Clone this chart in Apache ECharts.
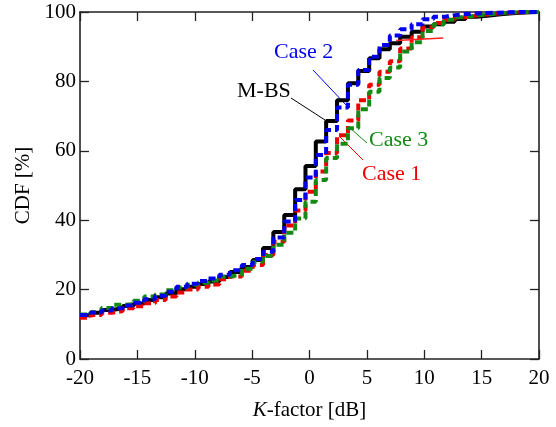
<!DOCTYPE html>
<html>
<head>
<meta charset="utf-8">
<script src="https://cdn.jsdelivr.net/npm/echarts@6/dist/echarts.min.js"></script>
<style>
html,body{margin:0;padding:0;background:#fff;}
#c{width:556px;height:427px;}
</style>
</head>
<body>
<div id="c"></div>
<script>
// Step edges of the K-factor bins [dB]
const kEdges = [-20, -19.07, -18.13, -17.2, -16.27, -15.33, -14.4, -13.46, -12.53, -11.6, -10.66, -9.73, -8.8, -7.86, -6.93, -5.9, -4.95, -4.05, -3.15, -2.2, -1.25, -0.35, 0.55, 1.45, 2.4, 3.35, 4.25, 5.2, 6.1, 7.0, 7.9, 8.9, 9.85, 10.8, 11.7, 12.65, 13.6, 14.55, 15.5, 16.45, 17.4, 18.35, 19.3, 20];
// CDF [%] values after each step
const mbs   = [12.6, 13.3, 14.1, 14.6, 15.3, 16.0, 17.0, 17.8, 18.9, 20.1, 20.8, 21.6, 22.3, 23.6, 25.1, 26.5, 28.5, 32.0, 36.6, 41.5, 48.9, 55.6, 62.7, 68.6, 74.6, 79.5, 83.0, 86.7, 89.3, 91.0, 92.9, 94.3, 95.8, 96.5, 97.2, 98.0, 98.6, 98.9, 99.3, 99.6, 99.8, 99.9, 100, 100];
const case1 = [11.9, 12.7, 13.3, 13.8, 14.6, 15.2, 16.1, 17.0, 18.0, 19.2, 20.0, 20.8, 21.5, 23.0, 23.8, 25.4, 27.1, 30.0, 33.8, 38.5, 42.8, 48.2, 54.0, 59.4, 64.5, 68.7, 74.6, 79.0, 82.8, 85.8, 89.5, 92.7, 95.5, 96.8, 97.8, 98.5, 99.0, 99.3, 99.6, 99.8, 99.9, 100, 100, 100];
const case2 = [12.7, 13.4, 14.0, 14.6, 15.4, 16.2, 17.2, 18.2, 19.4, 20.8, 21.7, 22.5, 23.2, 24.3, 25.6, 27.1, 28.8, 30.9, 35.0, 39.6, 45.8, 52.3, 58.8, 66.0, 72.5, 79.0, 83.3, 87.1, 90.5, 93.2, 95.0, 96.5, 97.9, 98.6, 99.1, 99.4, 99.6, 99.7, 99.8, 99.9, 100, 100, 100, 100];
const case3 = [12.8, 13.5, 14.7, 15.6, 15.8, 16.8, 18.0, 18.6, 19.8, 20.6, 21.4, 22.0, 22.6, 23.8, 24.3, 26.0, 28.0, 29.7, 32.9, 36.4, 40.5, 45.3, 51.6, 57.9, 62.0, 66.5, 72.0, 77.0, 81.0, 84.0, 88.6, 91.3, 94.5, 96.5, 97.8, 98.5, 99.0, 99.3, 99.6, 99.8, 100, 100, 100, 100];
// small red stroke near the top
const redStrokeX = [7.55, 11.65];
const redStrokeY = [91.8, 92.5];

const xTicks = [-20, -15, -10, -5, 0, 5, 10, 15, 20];
const yTicks = [0, 20, 40, 60, 80, 100];

const FONT = '"Liberation Serif", "Times New Roman", serif';
const pairs = ys => kEdges.map((x, i) => [x, ys[i]]);

const chart = echarts.init(document.getElementById('c'), null, {renderer: 'canvas'});

const axisCommon = {
  axisLine: {show: true, onZero: false, lineStyle: {color: '#222', width: 1.6}},
  axisTick: {show: true, inside: true, length: 9, lineStyle: {color: '#222', width: 1.3}},
  splitLine: {show: false}
};

function dashed(name, data, color) {
  return {
    name, type: 'line', step: 'end', data, symbol: 'none', animation: false,
    lineStyle: {color, width: 4, type: [7, 4]}, z: 3
  };
}

chart.setOption({
  animation: false,
  grid: {left: 80, right: 17, top: 12, bottom: 68},
  xAxis: [
    Object.assign({type: 'value', min: -20, max: 20, interval: 5, position: 'bottom',
      axisLabel: {color: '#000', fontFamily: FONT, fontSize: 21, margin: 9,
        formatter: v => xTicks.includes(v) ? String(v) : ''},
      name: '{i|K}-factor [dB]', nameLocation: 'middle', nameGap: 41,
      nameTextStyle: {color: '#000', fontFamily: FONT, fontSize: 21,
        rich: {i: {fontStyle: 'italic', fontFamily: FONT, fontSize: 21, color: '#000'}}}
    }, axisCommon),
    Object.assign({type: 'value', min: -20, max: 20, interval: 5, position: 'top',
      axisLabel: {show: false}}, axisCommon)
  ],
  yAxis: [
    Object.assign({type: 'value', min: 0, max: 100, interval: 20, position: 'left',
      axisLabel: {color: '#000', fontFamily: FONT, fontSize: 21, margin: 4,
        formatter: v => yTicks.includes(v) ? String(v) : ''},
      name: 'CDF [%]', nameLocation: 'middle', nameGap: 40, nameRotate: 90,
      nameTextStyle: {color: '#000', fontFamily: FONT, fontSize: 21}
    }, axisCommon),
    Object.assign({type: 'value', min: 0, max: 100, interval: 20, position: 'right',
      axisLabel: {show: false}}, axisCommon)
  ],
  series: [
    {name: 'M-BS', type: 'line', step: 'end', data: pairs(mbs), symbol: 'none',
      lineStyle: {color: '#000', width: 4}, z: 2},
    dashed('Case 1', pairs(case1), '#ee0000'),
    dashed('Case 3', pairs(case3), '#138a13'),
    dashed('Case 2', pairs(case2), '#0000ee'),
    {name: 'red stroke', type: 'line', data: redStrokeX.map((x, i) => [x, redStrokeY[i]]),
      symbol: 'none', lineStyle: {color: '#ff2020', width: 1.5}, z: 4}
  ],
  graphic: [
    {type: 'text', left: 274, top: 41, style: {text: 'Case 2', fill: '#0000ee', font: '22px ' + FONT}},
    {type: 'line', shape: {x1: 313, y1: 70, x2: 347, y2: 106}, style: {stroke: '#0000ee', lineWidth: 1}},
    {type: 'text', left: 237, top: 80, style: {text: 'M-BS', fill: '#000', font: '22px ' + FONT}},
    {type: 'line', shape: {x1: 291, y1: 98, x2: 325, y2: 120}, style: {stroke: '#000', lineWidth: 1}},
    {type: 'text', left: 369, top: 129, style: {text: 'Case 3', fill: '#138a13', font: '22px ' + FONT}},
    {type: 'line', shape: {x1: 350, y1: 128, x2: 367, y2: 143}, style: {stroke: '#138a13', lineWidth: 1}},
    {type: 'text', left: 362, top: 163, style: {text: 'Case 1', fill: '#ee0000', font: '22px ' + FONT}},
    {type: 'line', shape: {x1: 340, y1: 137, x2: 363, y2: 160}, style: {stroke: '#ee0000', lineWidth: 1}}
  ]
});
</script>
</body>
</html>
